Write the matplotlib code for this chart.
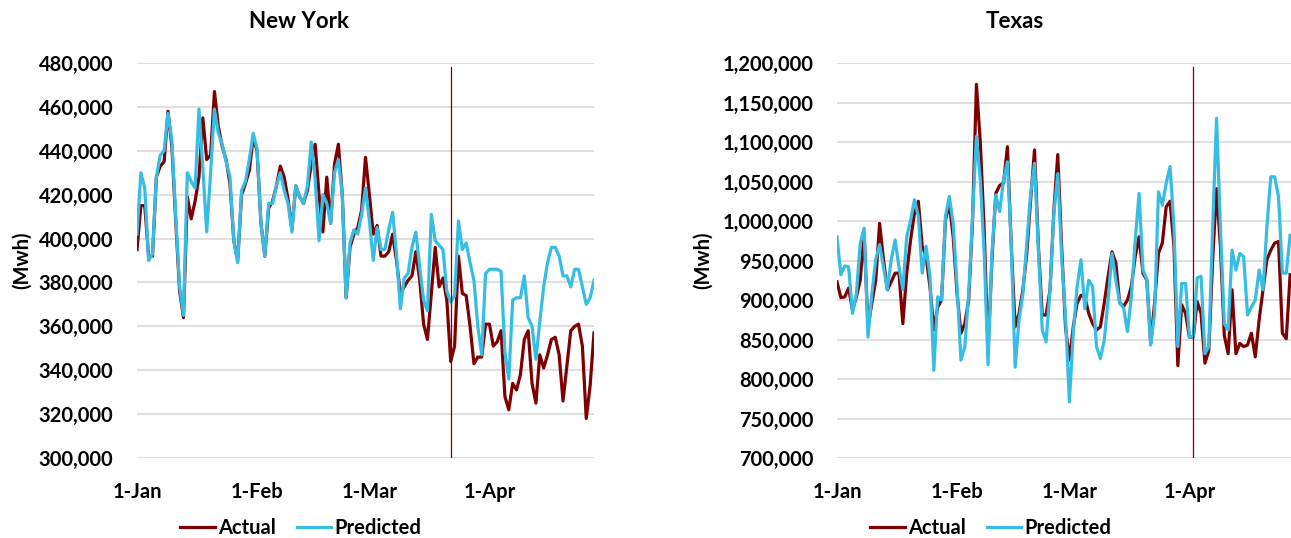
import pandas as pd
import matplotlib.pyplot as plt
from matplotlib.ticker import FuncFormatter

plt.rcParams['font.family'] = ['Lato', 'DejaVu Sans']
plt.rcParams['font.weight'] = 'bold'

# daily values, 1-Jan onwards (thousand Mwh)
ny_actual = [
    395, 415, 415, 392, 392, 428, 433, 435, 458, 442,
    408, 376, 364, 419, 409, 417, 428, 455, 436, 438,
    467, 451, 442, 436, 425, 399, 390, 420, 425, 431,
    446, 440, 407, 392, 414, 417, 424, 433, 428, 418,
    404, 424, 419, 416, 422, 434, 443, 420, 403, 428,
    407, 434, 443, 420, 373, 396, 402, 405, 413, 437,
    420, 402, 406, 392, 392, 394, 402, 390, 375, 378,
    381, 383, 394, 381, 361, 354, 375, 396, 378, 382,
    372, 344, 351, 392, 375, 374, 360, 343, 346, 346,
    361, 361, 351, 353, 358, 328, 322, 334, 331, 338,
    354, 358, 334, 325, 347, 341, 347, 354, 355, 347,
    326, 342, 358, 360, 361, 351, 318, 333, 357]
ny_pred = [
    402, 430, 423, 390, 393, 428, 438, 440, 457, 445,
    410, 378, 365, 430, 426, 423, 459, 432, 403, 430,
    459, 448, 443, 435, 428, 399, 389, 422, 426, 436,
    448, 441, 407, 392, 416, 416, 424, 430, 422, 416,
    403, 424, 419, 416, 424, 444, 427, 399, 420, 416,
    407, 430, 436, 420, 373, 398, 404, 402, 411, 423,
    408, 390, 405, 395, 395, 404, 412, 393, 368, 382,
    384, 396, 403, 387, 372, 367, 411, 399, 397, 395,
    376, 371, 374, 408, 395, 398, 389, 381, 360, 347,
    384, 386, 386, 386, 385, 348, 336, 372, 373, 373,
    383, 364, 360, 345, 362, 378, 389, 396, 396, 392,
    383, 383, 378, 386, 386, 378, 370, 373, 381]

tx_actual = [
    923, 903, 904, 915, 887, 904, 925, 984, 866, 896,
    925, 997, 951, 913, 923, 934, 934, 870, 934, 976,
    1010, 1025, 968, 955, 917, 862, 891, 900, 1001, 1022,
    980, 908, 858, 870, 900, 1001, 1173, 1100, 990, 835,
    951, 1035, 1045, 1048, 1094, 968, 866, 883, 913, 959,
    1027, 1090, 968, 881, 881, 913, 1014, 1084, 968, 866,
    824, 866, 896, 906, 904, 883, 870, 862, 866, 896,
    930, 961, 947, 896, 892, 900, 917, 955, 980, 934,
    925, 845, 896, 959, 972, 1018, 1025, 968, 817, 894,
    883, 853, 853, 898, 883, 820, 836, 951, 1041, 968,
    855, 832, 913, 832, 845, 841, 843, 858, 828, 875,
    913, 951, 963, 972, 974, 858, 851, 932]
tx_pred = [
    980, 932, 943, 942, 883, 908, 972, 991, 853, 908,
    951, 970, 942, 913, 951, 976, 942, 913, 980, 1001,
    1027, 1006, 934, 968, 930, 811, 904, 900, 1006, 1031,
    997, 917, 824, 841, 908, 1006, 1107, 1052, 960, 818,
    959, 1033, 1012, 1052, 1075, 968, 815, 875, 908, 972,
    1035, 1073, 963, 862, 847, 913, 1010, 1060, 955, 879,
    771, 858, 917, 951, 889, 925, 917, 841, 826, 849,
    900, 959, 925, 896, 890, 860, 904, 976, 1035, 938,
    926, 843, 883, 1037, 1020, 1048, 1069, 993, 841, 921,
    921, 853, 853, 928, 930, 832, 841, 993, 1130, 993,
    870, 862, 963, 938, 959, 955, 881, 891, 900, 938,
    913, 993, 1056, 1056, 1031, 934, 934, 982]

dates = pd.date_range('2020-01-01', periods=len(ny_actual))
month_ticks = pd.to_datetime(['2020-01-01', '2020-02-01', '2020-03-01', '2020-04-01'])
month_labels = ['1-Jan', '1-Feb', '1-Mar', '1-Apr']
ny_event = pd.Timestamp('2020-03-22')
tx_event = pd.Timestamp('2020-04-02')

RED = '#7f0000'
BLUE = '#36bde4'
W, H = 1291, 538

fig = plt.figure(figsize=(W / 100, H / 100), dpi=100)
ax1 = fig.add_axes([137 / W, 80 / H, 457 / W, 395 / H])
ax2 = fig.add_axes([837 / W, 80 / H, 457 / W, 395 / H])

panels = [
    (ax1, ny_actual, ny_pred, (300000, 480000), 20000, ny_event),
    (ax2, tx_actual, tx_pred, (700000, 1200000), 50000, tx_event),
]
for ax, act, pred, ylim, step, event in panels:
    d = dates[:len(act)]
    ax.plot(d, [v * 1000 for v in act], color=RED, lw=2.3, label='Actual', zorder=3)
    ax.plot(d, [v * 1000 for v in pred], color=BLUE, lw=2.3, label='Predicted', zorder=4)
    ax.axvline(event, ymax=0.99, color=RED, lw=0.9, zorder=5)
    ax.set_xlim(dates[0], dates[-1])
    ax.set_ylim(*ylim)
    ax.set_yticks(range(ylim[0], ylim[1] + 1, step))
    ax.yaxis.set_major_formatter(FuncFormatter(lambda v, p: f'{v:,.0f}'))
    ax.set_xticks(month_ticks)
    ax.set_xticklabels(month_labels)
    ax.tick_params(length=0, labelsize=14.5, pad=17)
    ax.yaxis.grid(True, color='#d9d9d9', lw=1.2)
    ax.set_axisbelow(True)
    for s in ax.spines.values():
        s.set_visible(False)

fig.text(299 / W, 1 - 22 / H, 'New York', ha='center', va='center', fontsize=16, fontweight='bold')
fig.text(1015 / W, 1 - 22 / H, 'Texas', ha='center', va='center', fontsize=16, fontweight='bold')
fig.text(22 / W, 1 - 260 / H, '(Mwh)', rotation=90, ha='center', va='center', fontsize=14.5, fontweight='bold')
fig.text(703 / W, 1 - 260 / H, '(Mwh)', rotation=90, ha='center', va='center', fontsize=14.5, fontweight='bold')

for ax, cx in [(ax1, 301), (ax2, 991)]:
    ax.legend(loc='center', bbox_to_anchor=(cx / W, 1 - 528 / H), bbox_transform=fig.transFigure,
              ncol=2, frameon=False, handlelength=1.7, handletextpad=0.2, columnspacing=1.0,
              borderaxespad=0, prop={'size': 14.5, 'weight': 'bold'})

plt.savefig('out.png', dpi=100)
